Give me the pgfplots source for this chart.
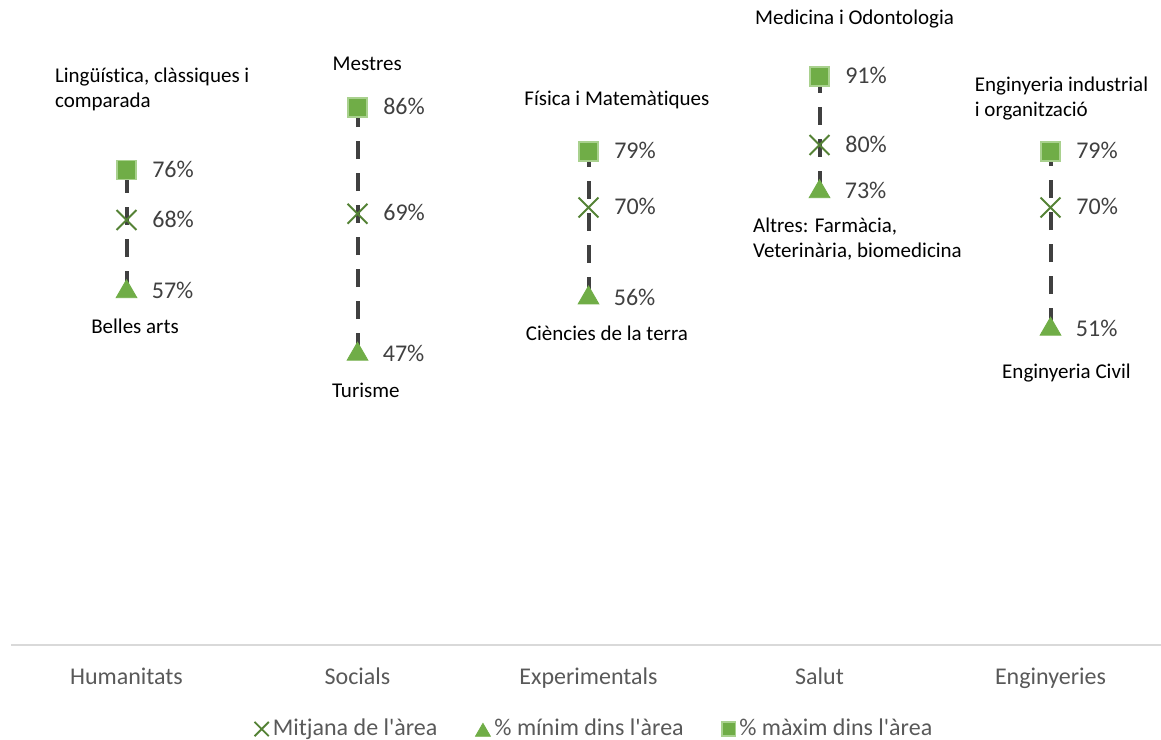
\documentclass[border=0pt]{standalone}
\usepackage{fontspec}
\setmainfont{Carlito}[Ligatures={TeXOff,NoCommon}]
\usepackage{pgfplots}
\pgfplotsset{compat=1.18}
\definecolor{gfill}{HTML}{70AD47}
\definecolor{gedge}{HTML}{A9D18E}
\definecolor{gdark}{HTML}{548235}
\definecolor{lbl}{HTML}{404040}
\definecolor{tickc}{HTML}{595959}
\definecolor{axl}{HTML}{D9D9D9}
\pgfplotsset{
  lab/.style={
    nodes near coords={\pgfmathprintnumber{\pgfplotspointmeta}\%},
    every node near coord/.append style={anchor=west, inner sep=0pt, xshift=12.5pt, yshift=0.5pt,
      font=\fontsize{12}{14}\selectfont, text=lbl},
  },
  hl/.style={forget plot, lbl, line width=2pt, dash pattern=on 9pt off 7pt},
}
\begin{document}
\begin{tikzpicture}
\useasboundingbox (-5.5pt,-47pt) rectangle (575pt,322.5pt);
\begin{axis}[
  at={(0,0)}, anchor=south west,
  scale only axis, width=577.5pt, height=312.5pt,
  xmin=-0.5, xmax=4.5, ymin=0, ymax=100,
  clip=false,
  axis x line*=bottom, axis y line=none,
  x axis line style={draw=axl, line width=1pt, -},
  xtick={0,1,2,3,4},
  xticklabels={Humanitats,Socials,Experimentals,Salut,Enginyeries},
  xticklabel style={font=\fontsize{12}{14}\selectfont, text=tickc, anchor=base, yshift=-19.5pt},
  major tick length=0pt,
  ytick=\empty,
  /pgf/number format/assume math mode=true,
  point meta=y,
  legend columns=3,
  legend style={draw=none, fill=none, at={(0.506,-0.1344)}, anchor=center,
    font=\fontsize{12}{14}\selectfont, text=tickc,
    /tikz/every even column/.append style={column sep=17pt}},
  legend image post style={every mark/.append style={scale=0.72}},
]
% high-low lines
\addplot[hl] coordinates {(0,57) (0,76)};
\addplot[hl] coordinates {(1,47) (1,86)};
\addplot[hl] coordinates {(2,56) (2,79)};
\addplot[hl] coordinates {(3,73) (3,91)};
\addplot[hl] coordinates {(4,51) (4,79)};
% mean
\addplot[only marks, mark=x, mark size=7pt, color=gdark, mark options={line width=0.9pt}, lab]
  coordinates {(0,68) (1,69) (2,70) (3,80) (4,70)};
\addlegendentry{Mitjana de l'àrea}
% min
\addplot[only marks, mark=triangle*, mark size=6pt, color=gfill,
  mark options={fill=gfill, draw=gfill, yshift=-1.5pt}, lab]
  coordinates {(0,57) (1,47) (2,56) (3,73) (4,51)};
\addlegendentry{\% mínim dins l'àrea}
% max
\addplot[only marks, mark=square*, mark size=4.75pt, color=gfill,
  mark options={fill=gfill, draw=gedge, line width=0.8pt}, lab]
  coordinates {(0,76) (1,86) (2,79) (3,91) (4,79)};
\addlegendentry{\% màxim dins l'àrea}
% annotations
\begin{scope}[every node/.style={inner sep=0pt, font=\fontsize{10.5}{12.5}\selectfont, text=black}]
\node[anchor=west, align=left] at (axis cs:-0.311,88.9) {Lingüística, clàssiques i\\comparada};
\node at (axis cs:0.037,51.0) {Belles arts};
\node at (axis cs:1.042,93.0) {Mestres};
\node at (axis cs:1.036,40.8) {Turisme};
\node at (axis cs:2.123,87.2) {Física i Matemàtiques};
\node at (axis cs:2.080,49.8) {Ciències de la terra};
\node at (axis cs:3.152,100.2) {Medicina i Odontologia};
\node[anchor=west, align=left] at (axis cs:2.711,64.9) {Altres: Farmàcia,\\Veterinària, biomedicina};
\node[anchor=west, align=left] at (axis cs:3.671,87.5) {Enginyeria industrial\\i organització};
\node at (axis cs:4.069,43.5) {Enginyeria Civil};
\end{scope}
\end{axis}
\end{tikzpicture}
\end{document}
